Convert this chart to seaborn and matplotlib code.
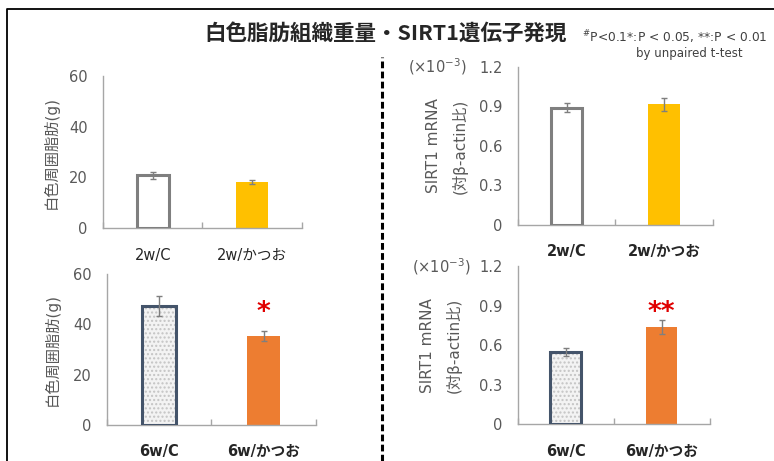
import matplotlib
matplotlib.use('Agg')
import matplotlib.pyplot as plt
from matplotlib.lines import Line2D
from matplotlib.patches import Rectangle
import pandas as pd
import seaborn as sns

# data
groups_2w = ['2w/C', '2w/かつお']
groups_6w = ['6w/C', '6w/かつお']
fat_2w = [20.8, 18.2]
fat_2w_err = [1.3, 0.7]
fat_6w = [47.3, 35.5]
fat_6w_err = [4.0, 2.0]
sirt_2w = [0.89, 0.915]
sirt_2w_err = [0.033, 0.052]
sirt_6w = [0.55, 0.74]
sirt_6w_err = [0.03, 0.053]
fat_6w_sig = ['', '*']
sirt_6w_sig = ['', '**']
fat_ticks = [0, 20, 40, 60]
fat_ticklabels = ['0', '20', '40', '60']
sirt_ticks = [0, 0.3, 0.6, 0.9, 1.2]
sirt_ticklabels = ['0', '0.3', '0.6', '0.9', '1.2']

sns.set_theme(style='white')
plt.rcParams['font.family'] = ['DejaVu Sans', 'Noto Sans CJK JP']

GRAY = '#7f7f7f'
NAVY = '#44546a'
GOLD = '#ffc000'
ORANGE = '#ed7d31'
TXT = '#595959'


def draw_panel(ax, groups, values, errs, palette, edges, ticks, ticklabels,
               bold, ylabel, label_x, dotted=False, sig=None, sig_off=0, sci_x=None):
    df = pd.DataFrame({'group': groups, 'value': values})
    sns.barplot(data=df, x='group', y='value', hue='group', palette=palette,
                width=0.32, legend=False, ax=ax, errorbar=None, saturation=1)
    for i, p in enumerate(ax.patches):
        p.set_edgecolor(edges[i])
        p.set_linewidth(2.2 if edges[i] != 'none' else 0)
        if edges[i] != 'none':
            p.set_facecolor('none')
            p.set_zorder(3)
        if dotted and i == 0:
            bg = Rectangle((p.get_x(), p.get_y()), p.get_width(), p.get_height(),
                           facecolor='#f3f3f3', edgecolor='#c4c4c4', lw=0,
                           hatch='....', zorder=2)
            ax.add_patch(bg)
    ax.errorbar(x=range(len(values)), y=values, yerr=errs, fmt='none',
                ecolor=GRAY, elinewidth=1, capsize=2.5, capthick=1, zorder=4)
    if sig:
        for i, s in enumerate(sig):
            if s:
                ax.text(i, values[i] + errs[i] + sig_off, s, color='#e00000',
                        ha='center', va='center', fontsize=19, fontweight='bold')
    ax.set_xlim(-0.5, 1.5)
    ax.set_ylim(0, ticks[-1])
    ax.set_yticks(ticks)
    ax.set_yticklabels(ticklabels)
    ax.set_xticks([0, 1])
    ax.set_xticklabels(groups, fontweight='bold' if bold else 'normal')
    ax.set_xticks([-0.5, 0.5, 1.5], minor=True)
    ax.tick_params(axis='x', which='major', length=0, pad=14, labelsize=10.5,
                   labelcolor='#262626')
    ax.tick_params(axis='x', which='minor', length=4, direction='in',
                   color='#a6a6a6', bottom=True)
    ax.tick_params(axis='y', length=0, pad=11, labelsize=10.5, labelcolor=TXT)
    for side in ['top', 'right']:
        ax.spines[side].set_visible(False)
    for side in ['left', 'bottom']:
        ax.spines[side].set_color('#a6a6a6')
        ax.spines[side].set_linewidth(1)
    ax.set_xlabel('')
    ax.set_ylabel(ylabel, fontsize=11, color=TXT, linespacing=1.8)
    ax.yaxis.set_label_coords(label_x, 0.5)
    if sci_x is not None:
        ax.text(sci_x, 1.0, '(×10$^{-3}$)', transform=ax.transAxes, ha='center',
                va='center', fontsize=10.5, color=TXT)


fig = plt.figure(figsize=(7.74, 4.61), dpi=100)
ax1 = fig.add_axes([0.133, 0.505, 0.257, 0.330])
ax2 = fig.add_axes([0.669, 0.512, 0.252, 0.343])
ax3 = fig.add_axes([0.138, 0.078, 0.270, 0.328])
ax4 = fig.add_axes([0.669, 0.080, 0.248, 0.342])

draw_panel(ax1, groups_2w, fat_2w, fat_2w_err, ['white', GOLD], [GRAY, 'none'],
           fat_ticks, fat_ticklabels, False, '白色周囲脂肪(g)', -0.221)
draw_panel(ax2, groups_2w, sirt_2w, sirt_2w_err, ['white', GOLD], [GRAY, 'none'],
           sirt_ticks, sirt_ticklabels, True, 'SIRT1 mRNA\n(対β-actin比)', -0.256,
           sci_x=-0.415)
draw_panel(ax3, groups_6w, fat_6w, fat_6w_err, ['#f3f3f3', ORANGE], [NAVY, 'none'],
           fat_ticks, fat_ticklabels, True, '白色周囲脂肪(g)', -0.225,
           dotted=True, sig=fat_6w_sig, sig_off=7)
draw_panel(ax4, groups_6w, sirt_6w, sirt_6w_err, ['#f3f3f3', ORANGE], [NAVY, 'none'],
           sirt_ticks, sirt_ticklabels, True, 'SIRT1 mRNA\n(対β-actin比)', -0.292,
           dotted=True, sig=sirt_6w_sig, sig_off=0.05, sci_x=-0.396)

# title and note
fig.text(0.498, 0.928, '白色脂肪組織重量・SIRT1遺伝子発現', ha='center', va='center',
         fontsize=15.5, fontweight='bold', family=['Noto Sans CJK JP', 'DejaVu Sans'])
fig.text(0.752, 0.92, '$^{\\#}$P<0.1*:P < 0.05, **:P < 0.01', ha='left', va='center',
         fontsize=8.8, color='#404040')
fig.text(0.891, 0.885, 'by unpaired t-test', ha='center', va='center',
         fontsize=8.5, color='#404040')

# frame and divider
fig.add_artist(Line2D([0.009, 0.009, 1.0], [0.0, 0.98, 0.98], color='black', lw=1.3,
                      transform=fig.transFigure))
fig.add_artist(Line2D([0.4935, 0.4935], [0.0, 0.876], color='black', lw=2.2,
                      dashes=(2.2, 1.1), transform=fig.transFigure))

fig.savefig('out.png', dpi=100)
